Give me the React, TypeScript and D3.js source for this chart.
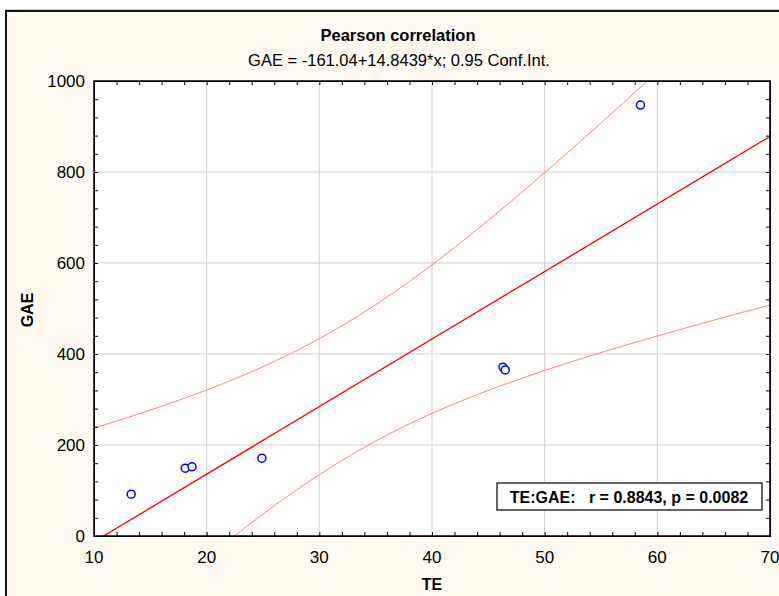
import React, { useEffect, useRef } from "react";
import * as d3 from "d3";

const teValues = [13.3, 18.1, 18.7, 24.9, 46.3, 46.5, 58.5];
const gaeValues = [92, 149, 152, 171, 371, 365, 947];

const xTicks = [10, 20, 30, 40, 50, 60, 70];
const yTicks = [0, 200, 400, 600, 800, 1000];

const intercept = -161.04;
const slope = 14.8439;
const tCrit = 2.5706; // t(0.975, df = 5)

const App = () => {
  const svgRef = useRef<SVGSVGElement>(null);
  const width = 779;
  const height = 596;

  useEffect(() => {
    const svg = d3.select(svgRef.current);
    svg.selectAll("*").remove();

    const margin = { top: 81, right: 9, bottom: 60, left: 94 };
    const innerWidth = width - margin.left - margin.right;
    const innerHeight = height - margin.top - margin.bottom;
    const font = "'Liberation Sans', Arial, sans-serif";

    // frame
    svg.append("rect")
      .attr("x", 6)
      .attr("y", 11)
      .attr("width", width + 20)
      .attr("height", height + 20)
      .attr("fill", "#FFFAEF")
      .attr("stroke", "#111")
      .attr("stroke-width", 2);
    svg.append("line")
      .attr("x1", 5).attr("x2", width)
      .attr("y1", 9.5).attr("y2", 9.5)
      .attr("stroke", "#ccc");

    svg.append("text")
      .attr("x", 398).attr("y", 41)
      .attr("text-anchor", "middle")
      .style("font-family", font).style("font-size", "16.5px").style("font-weight", "bold")
      .text("Pearson correlation");
    svg.append("text")
      .attr("x", 399).attr("y", 66)
      .attr("text-anchor", "middle")
      .style("font-family", font).style("font-size", "16.5px")
      .text("GAE = -161.04+14.8439*x; 0.95 Conf.Int.");

    const x = d3.scaleLinear().domain([10, 70]).range([0, innerWidth]);
    const y = d3.scaleLinear().domain([0, 1000]).range([innerHeight, 0]);

    const g = svg.append("g").attr("transform", `translate(${margin.left},${margin.top})`);

    g.append("rect")
      .attr("width", innerWidth).attr("height", innerHeight)
      .attr("fill", "#fff");

    g.append("clipPath").attr("id", "plot-clip")
      .append("rect").attr("width", innerWidth).attr("height", innerHeight);

    // grid
    xTicks.slice(1, -1).forEach((t) => {
      g.append("line")
        .attr("x1", x(t)).attr("x2", x(t))
        .attr("y1", 0).attr("y2", innerHeight)
        .attr("stroke", "#cfcfcf");
    });
    yTicks.slice(1, -1).forEach((t) => {
      g.append("line")
        .attr("x1", 0).attr("x2", innerWidth)
        .attr("y1", y(t)).attr("y2", y(t))
        .attr("stroke", "#cfcfcf");
    });

    // confidence band from the fitted line
    const n = teValues.length;
    const xMean = d3.mean(teValues) as number;
    const sxx = d3.sum(teValues, (v) => (v - xMean) ** 2);
    const sse = d3.sum(teValues, (v, i) => (gaeValues[i] - (intercept + slope * v)) ** 2);
    const s = Math.sqrt(sse / (n - 2));
    const band = d3.range(10, 70.01, 0.5).map((v) => {
      const fit = intercept + slope * v;
      const half = tCrit * s * Math.sqrt(1 / n + (v - xMean) ** 2 / sxx);
      return { v, lo: fit - half, hi: fit + half };
    });

    const plot = g.append("g").attr("clip-path", "url(#plot-clip)");
    const upper = d3.line<any>().x((d) => x(d.v)).y((d) => y(d.hi));
    const lower = d3.line<any>().x((d) => x(d.v)).y((d) => y(d.lo));
    plot.append("path").attr("d", upper(band)).attr("fill", "none").attr("stroke", "#ff8080").attr("stroke-width", 1);
    plot.append("path").attr("d", lower(band)).attr("fill", "none").attr("stroke", "#ff8080").attr("stroke-width", 1);

    plot.append("line")
      .attr("x1", x(10)).attr("y1", y(intercept + slope * 10))
      .attr("x2", x(70)).attr("y2", y(intercept + slope * 70))
      .attr("stroke", "#ff0000").attr("stroke-width", 1.3);

    // points
    g.selectAll(".pt")
      .data(teValues)
      .enter()
      .append("circle")
      .attr("class", "pt")
      .attr("cx", (d) => x(d))
      .attr("cy", (d, i) => y(gaeValues[i]))
      .attr("r", 4)
      .attr("fill", "#fff")
      .attr("stroke", "#0000ff")
      .attr("stroke-width", 1.5);

    // axes with inward ticks
    const minorX = d3.range(10, 70.01, 2);
    const minorY = d3.range(0, 1000.01, 40);
    g.append("g").attr("transform", `translate(0,${innerHeight})`)
      .call(d3.axisTop(x).tickValues(minorX).tickSize(4).tickFormat(() => ""));
    g.append("g")
      .call(d3.axisBottom(x).tickValues(minorX).tickSize(4).tickFormat(() => ""));
    g.append("g")
      .call(d3.axisRight(y).tickValues(minorY).tickSize(4).tickFormat(() => ""));
    g.append("g").attr("transform", `translate(${innerWidth},0)`)
      .call(d3.axisLeft(y).tickValues(minorY).tickSize(4).tickFormat(() => ""));
    g.selectAll(".domain").attr("stroke", "#000");
    g.selectAll(".tick line").attr("stroke", "#000");
    g.append("rect")
      .attr("width", innerWidth).attr("height", innerHeight)
      .attr("fill", "none").attr("stroke", "#000").attr("stroke-width", 1.5);

    // tick labels
    g.selectAll(".xl")
      .data(xTicks)
      .enter()
      .append("text")
      .attr("x", (d) => x(d))
      .attr("y", innerHeight + 27)
      .attr("text-anchor", "middle")
      .style("font-family", font).style("font-size", "17px")
      .text((d) => d);
    g.selectAll(".yl")
      .data(yTicks)
      .enter()
      .append("text")
      .attr("x", -9)
      .attr("y", (d) => y(d))
      .attr("dy", "0.35em")
      .attr("text-anchor", "end")
      .style("font-family", font).style("font-size", "17px")
      .text((d) => d);

    g.append("text")
      .attr("x", innerWidth / 2)
      .attr("y", innerHeight + 54)
      .attr("text-anchor", "middle")
      .style("font-family", font).style("font-size", "16px").style("font-weight", "bold")
      .text("TE");
    g.append("text")
      .attr("transform", `translate(${27 - margin.left},${229}) rotate(-90)`)
      .attr("text-anchor", "middle")
      .attr("dy", "0.35em")
      .style("font-family", font).style("font-size", "16px").style("font-weight", "bold")
      .text("GAE");

    // stat box
    const box = g.append("g").attr("transform", `translate(${497 - margin.left},${483 - margin.top})`);
    box.append("rect")
      .attr("width", 265).attr("height", 27)
      .attr("fill", "#fff").attr("stroke", "#000").attr("stroke-width", 1.2);
    box.append("text")
      .attr("x", 132).attr("y", 14)
      .attr("dy", "0.35em")
      .attr("text-anchor", "middle")
      .attr("xml:space", "preserve")
      .style("white-space", "pre")
      .style("font-family", font).style("font-size", "16px").style("font-weight", "bold")
      .text("TE:GAE:   r = 0.8843, p = 0.0082");
  }, []);

  return (
    <svg
      ref={svgRef}
      width={width}
      height={height}
      style={{ position: "absolute", left: 0, top: 0 }}
    />
  );
};

export default App;
